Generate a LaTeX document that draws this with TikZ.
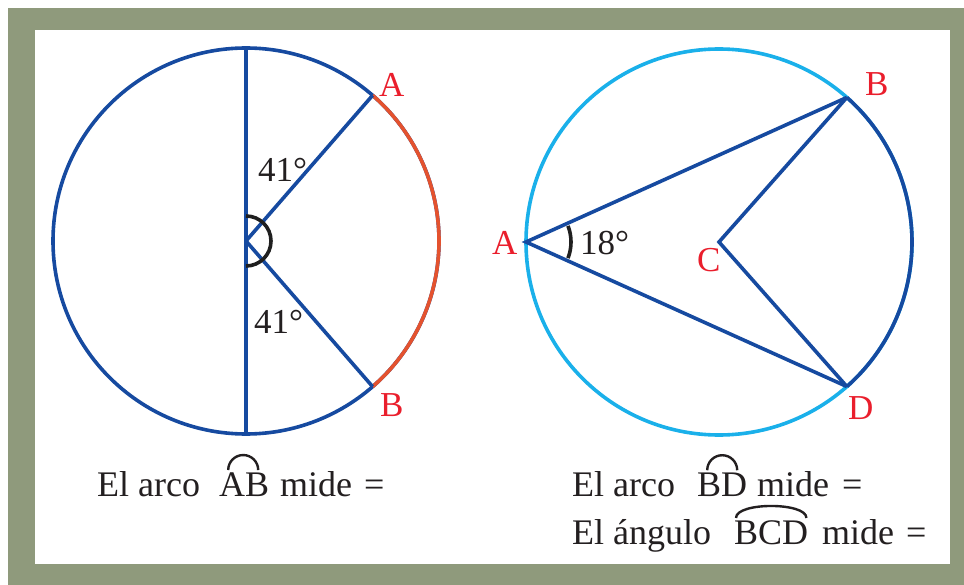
\documentclass[tikz,border=0pt]{standalone}
\usepackage{fontspec}
\setmainfont{Liberation Serif}
\definecolor{framegreen}{RGB}{143,154,124}
\definecolor{dblue}{RGB}{22,74,160}
\definecolor{lblue}{RGB}{26,176,234}
\definecolor{arcred}{RGB}{228,82,46}
\definecolor{lblred}{RGB}{234,30,44}
\definecolor{txtgray}{RGB}{35,31,32}
\begin{document}
\begin{tikzpicture}[x=1pt,y=1pt,
  geo/.style={line width=3.6pt},
  pt/.style={lblred,font=\fontsize{35}{40}\selectfont,inner sep=0pt,anchor=base west},
  deg/.style={txtgray,font=\fontsize{35}{40}\selectfont,inner sep=0pt,anchor=base west},
  txt/.style={txtgray,font=\fontsize{36}{40}\selectfont,inner sep=0pt,anchor=base west},
  hat/.style={txtgray,line width=2.4pt}]
\useasboundingbox (0,0) rectangle (964,-585);
\fill[white] (0,0) rectangle (964,-585);
\fill[framegreen] (8,-8) rectangle (964,-585);
\fill[white] (35,-30) rectangle (950,-564);
% ---- left circle
\coordinate (O1) at (246,-241);
\coordinate (A1) at ([shift={(49:193pt)}]O1);
\coordinate (B1) at ([shift={(-49:193pt)}]O1);
\coordinate (T1) at ([shift={(90:193pt)}]O1);
\coordinate (U1) at ([shift={(-90:193pt)}]O1);
\draw[geo,dblue] (O1) circle (193pt);
\draw[geo,arcred] (A1) arc[start angle=49,end angle=-49,radius=193pt];
\draw[geo,dblue] (T1) -- (U1);
\draw[geo,dblue] (O1) -- (A1);
\draw[geo,dblue] (O1) -- (B1);
\draw[geo,black!88] ([shift={(90:25pt)}]O1) arc[start angle=90,end angle=-90,radius=25pt];
\node[deg] (g1) at (258,-182) {41°};
\node[deg] (g2) at (254,-334) {41°};
\node[pt] (lA1) at (379,-97) {A};
\node[pt] (lB1) at (380,-416) {B};
% ---- right circle
\coordinate (O2) at (719,-242);
\coordinate (A2) at ([shift={(180:193pt)}]O2);
\coordinate (B2) at ([shift={(48.5:193pt)}]O2);
\coordinate (D2) at ([shift={(-48.5:193pt)}]O2);
\draw[geo,lblue] (O2) circle (193pt);
\draw[geo,dblue] (B2) arc[start angle=48.5,end angle=-48.5,radius=193pt];
\draw[geo,dblue,line join=miter] (B2) -- (A2) -- (D2);
\draw[geo,dblue,line join=miter] (B2) -- (O2) -- (D2);
\draw[geo,black!88] ([shift={(21:45pt)}]A2) arc[start angle=21,end angle=-21,radius=45pt];
\node[deg] (g3) at (580,-255) {18°};
\node[pt] (lA2) at (492,-255) {A};
\node[pt] (lB2) at (865,-96) {B};
\node[pt] (lC2) at (697,-272) {C};
\node[pt] (lD2) at (848,-419) {D};
% ---- texts
\node[txt] (s1) at (97,-496) {El arco};
\node[txt] (s2) at (219,-496) {AB};
\node[txt] (s3) at (280,-496) {mide};
\node[txt] (s4) at (364,-496) {=};
\draw[hat] ([xshift=-16pt,yshift=2pt]s2.north) arc[start angle=180,end angle=0,radius=15pt];
\node[txt] (r1) at (572,-496) {El arco};
\node[txt] (r2) at (697,-496) {BD};
\node[txt] (r3) at (757,-496) {mide};
\node[txt] (r4) at (842,-496) {=};
\draw[hat] ([xshift=-15pt,yshift=2pt]r2.north) arc[start angle=180,end angle=0,radius=15pt];
\node[txt] (q1) at (572,-544) {El ángulo};
\node[txt] (q2) at (734,-544) {BCD};
\node[txt] (q3) at (822,-544) {mide};
\node[txt] (q4) at (906,-544) {=};
\draw[hat] ([xshift=2pt,yshift=2pt]q2.north west) .. controls +(0,16) and +(0,16) .. ([xshift=-2pt,yshift=2pt]q2.north east);
\end{tikzpicture}
\end{document}
